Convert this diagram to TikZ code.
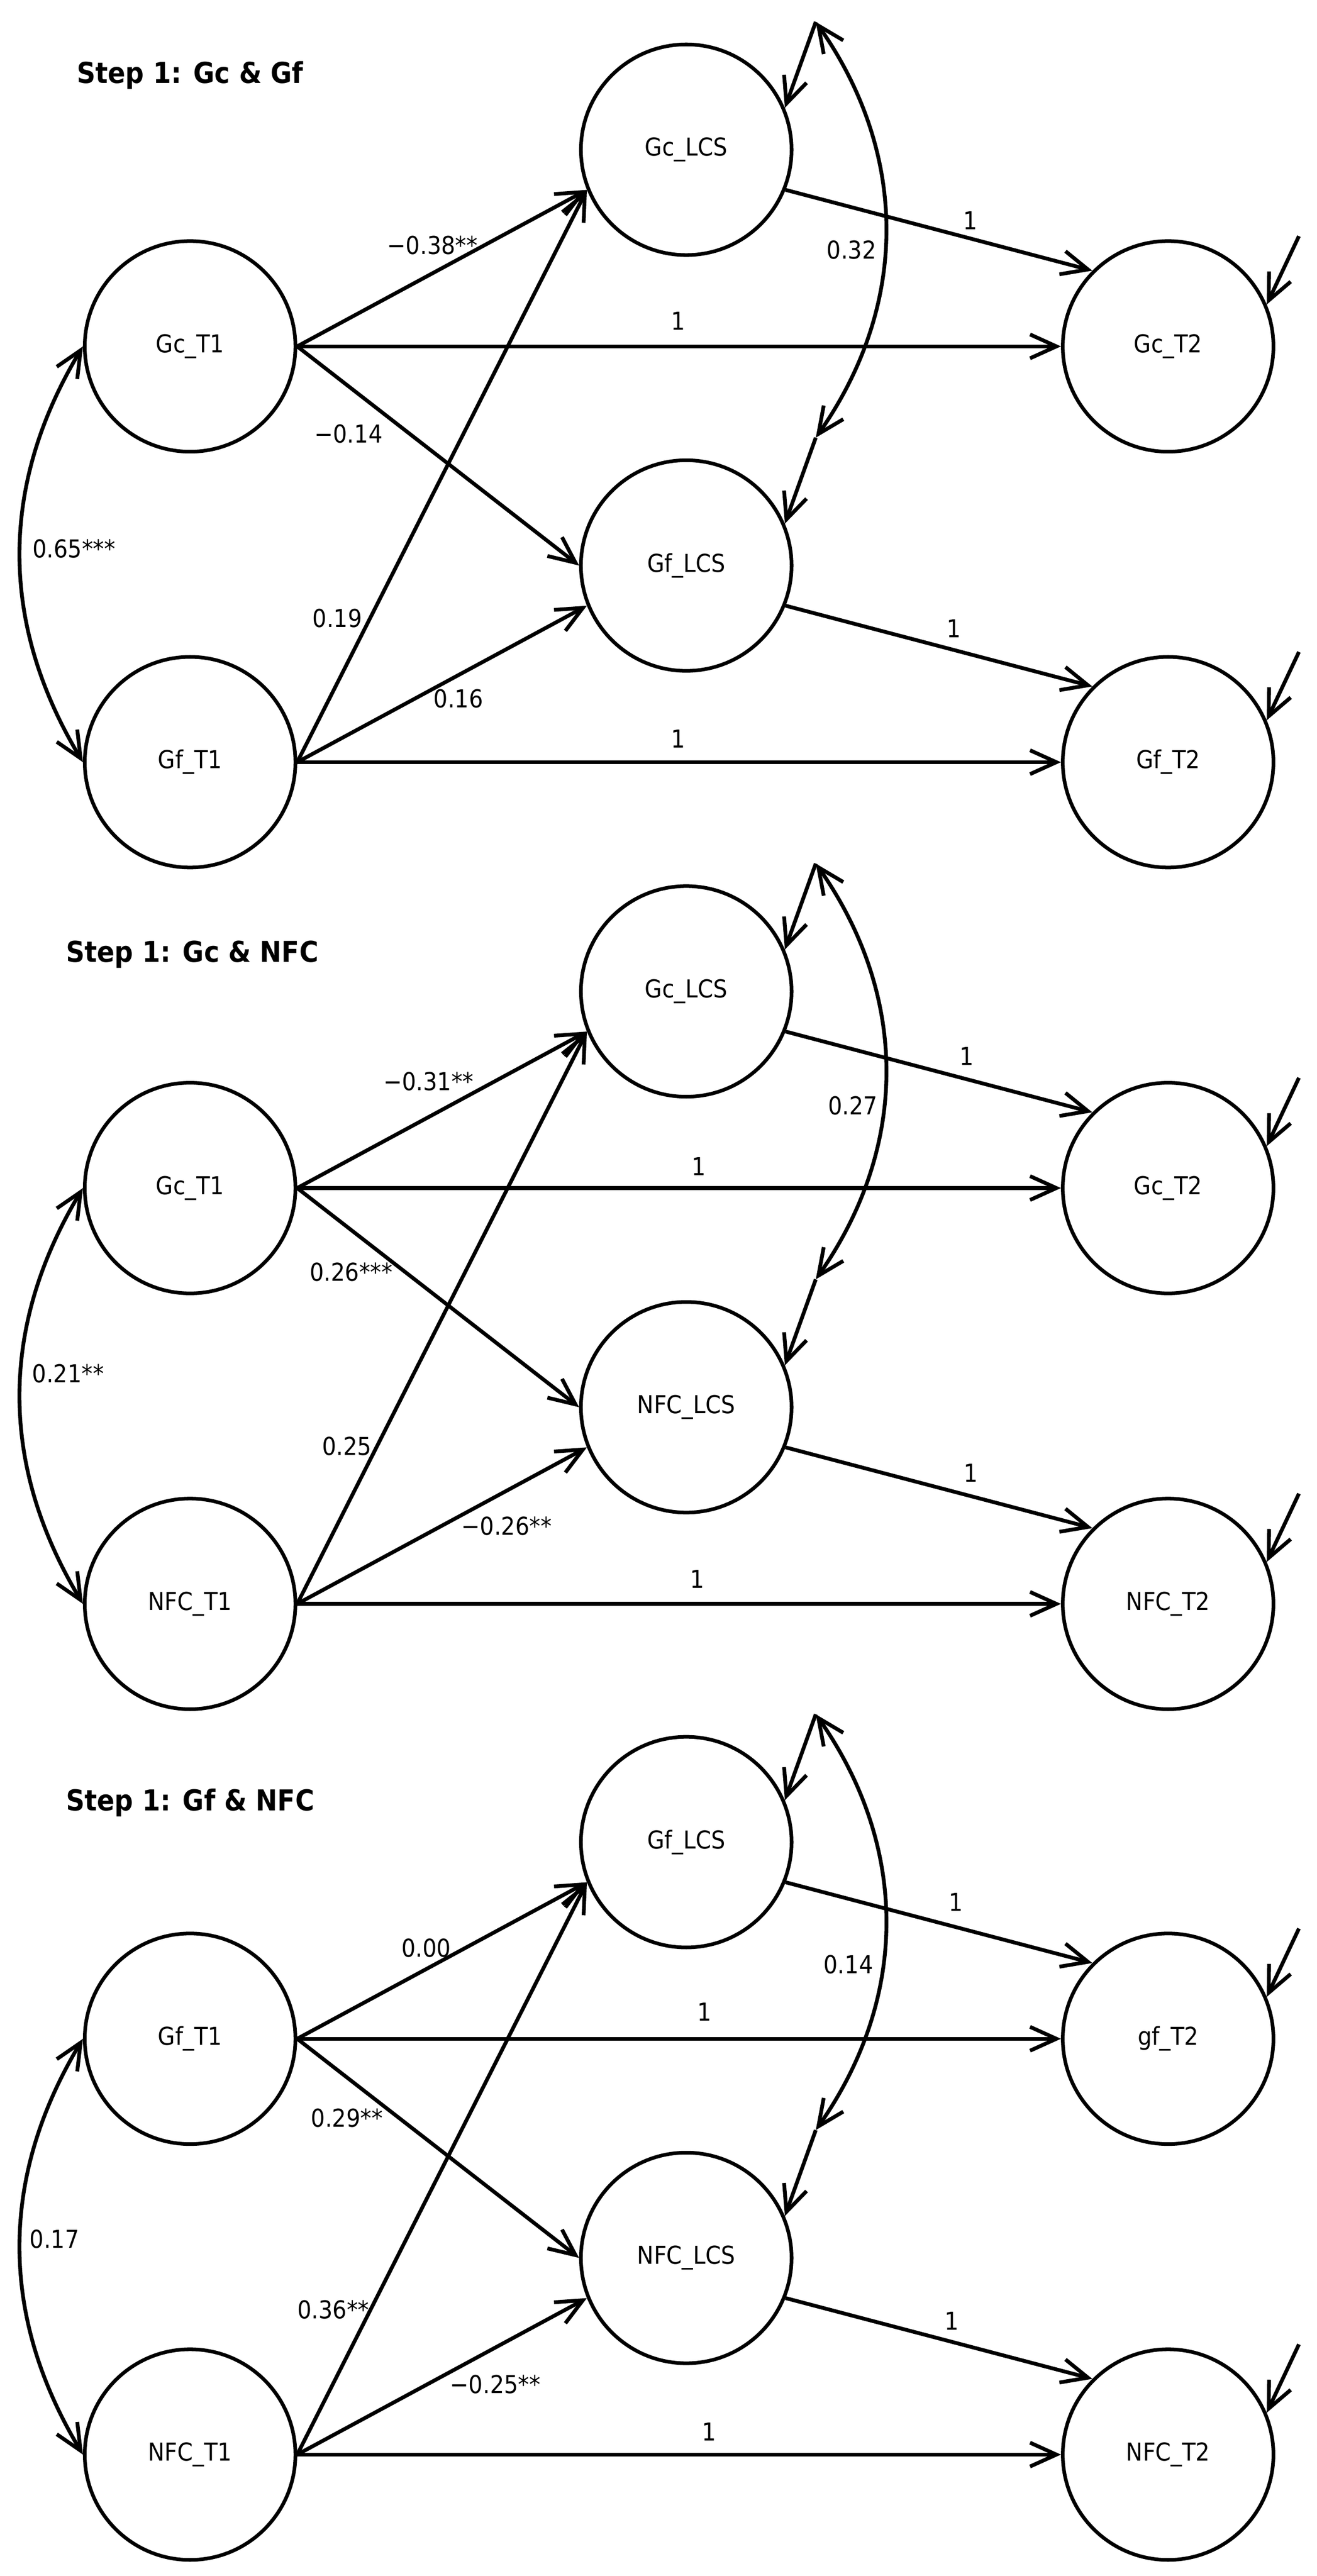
\documentclass[tikz,border=0pt]{standalone}
\usepackage{fontspec}
\setmainfont{DejaVu Sans}[FakeStretch=0.9]
\usetikzlibrary{calc}
\usetikzlibrary{positioning}
\usetikzlibrary{arrows.meta}

\tikzset{
  latent/.style={draw, circle, line width=2.2pt, minimum size=128pt, inner sep=0pt,
    font=\fontsize{15}{18}\selectfont},
  regpath/.style={line width=2.3pt, -{Straight Barb[length=16pt, width=14.5pt]}},
  covpath/.style={line width=2.3pt,
    {Straight Barb[length=16pt, width=14.5pt]}-{Straight Barb[length=16pt, width=14.5pt]}},
  coef/.style={inner sep=0pt, font=\fontsize{15}{18}\selectfont},
  steptitle/.style={anchor=west, inner sep=0pt, font=\fontsize{17.5}{21}\selectfont\bfseries},
}

\begin{document}
\begin{tikzpicture}[x=1pt, y=1pt]
  \useasboundingbox (0,0) rectangle (800,-1565.5);

  % Step 1: Gc & Gf
  \begin{scope}[yshift=-91pt]
    \node [steptitle] (gcgf-title) at (46.5,45.4) {Step 1: Gc \& Gf};

    \node [latent] (gcgf-gclcs) at (417,0) {Gc\_LCS};
    \node [latent, below=122.5pt of gcgf-gclcs] (gcgf-gflcs) {Gf\_LCS};
    \node [latent] (gcgf-gct1) at (115.5,-119.5) {Gc\_T1};
    \node [latent, below=122.5pt of gcgf-gct1] (gcgf-gft1) {Gf\_T1};
    \node [latent] (gcgf-gct2) at (709.8,-119.5) {Gc\_T2};
    \node [latent, below=122.5pt of gcgf-gct2] (gcgf-gft2) {Gf\_T2};

    \coordinate (gcgf-gcd) at ($(gcgf-gclcs)+(78.7,77.7)$);
    \coordinate (gcgf-gfd) at ($(gcgf-gflcs)+(78.7,77.7)$);
    \coordinate (gcgf-gce) at ($(gcgf-gct2)+(79.5,67)$);
    \coordinate (gcgf-gfe) at ($(gcgf-gft2)+(79.5,67)$);

    \draw [regpath] (gcgf-gct1.east) -- (gcgf-gclcs.202);
    \draw [regpath] (gcgf-gct1.east) -- (gcgf-gct2.west);
    \draw [regpath] (gcgf-gct1.east) -- (gcgf-gflcs.west);
    \draw [regpath] (gcgf-gft1.east) -- (gcgf-gclcs.202);
    \draw [regpath] (gcgf-gft1.east) -- (gcgf-gflcs.202);
    \draw [regpath] (gcgf-gft1.east) -- (gcgf-gft2.west);
    \draw [regpath] (gcgf-gclcs.338) -- (gcgf-gct2.135);
    \draw [regpath] (gcgf-gflcs.338) -- (gcgf-gft2.135);
    \draw [covpath] (gcgf-gct1.west) to [bend right=31] (gcgf-gft1.west);
    \draw [regpath] (gcgf-gcd) -- (gcgf-gclcs.23);
    \draw [regpath] (gcgf-gfd) -- (gcgf-gflcs.23);
    \draw [covpath] (gcgf-gcd) to [bend left=35] (gcgf-gfd);
    \draw [regpath] (gcgf-gce) -- (gcgf-gct2.23);
    \draw [regpath] (gcgf-gfe) -- (gcgf-gft2.23);

    \node [coef] (gcgf-c1) at (262.8,-58) {−0.38**};
    \node [coef] (gcgf-c2) at (412,-104) {1};
    \node [coef] (gcgf-c3) at (211.8,-172.7) {−0.14};
    \node [coef] (gcgf-c4) at (45,-242.6) {0.65***};
    \node [coef] (gcgf-c5) at (205,-284.6) {0.19};
    \node [coef] (gcgf-c6) at (278.6,-333.6) {0.16};
    \node [coef] (gcgf-c7) at (412,-358) {1};
    \node [coef] (gcgf-c8) at (589.5,-43) {1};
    \node [coef] (gcgf-c9) at (517.5,-61) {0.32};
    \node [coef] (gcgf-c10) at (579.7,-291) {1};
  \end{scope}

  % Step 1: Gc & NFC
  \begin{scope}[yshift=-602.5pt]
    \node [steptitle] (gcnfc-title) at (40,22.5) {Step 1: Gc \& NFC};

    \node [latent] (gcnfc-gclcs) at (417,0) {Gc\_LCS};
    \node [latent, below=122.5pt of gcnfc-gclcs] (gcnfc-nfclcs) {NFC\_LCS};
    \node [latent] (gcnfc-gct1) at (115.5,-119.5) {Gc\_T1};
    \node [latent, below=122.5pt of gcnfc-gct1] (gcnfc-nfct1) {NFC\_T1};
    \node [latent] (gcnfc-gct2) at (709.8,-119.5) {Gc\_T2};
    \node [latent, below=122.5pt of gcnfc-gct2] (gcnfc-nfct2) {NFC\_T2};

    \coordinate (gcnfc-gcd) at ($(gcnfc-gclcs)+(78.7,77.7)$);
    \coordinate (gcnfc-nfcd) at ($(gcnfc-nfclcs)+(78.7,77.7)$);
    \coordinate (gcnfc-gce) at ($(gcnfc-gct2)+(79.5,67)$);
    \coordinate (gcnfc-nfce) at ($(gcnfc-nfct2)+(79.5,67)$);

    \draw [regpath] (gcnfc-gct1.east) -- (gcnfc-gclcs.202);
    \draw [regpath] (gcnfc-gct1.east) -- (gcnfc-gct2.west);
    \draw [regpath] (gcnfc-gct1.east) -- (gcnfc-nfclcs.west);
    \draw [regpath] (gcnfc-nfct1.east) -- (gcnfc-gclcs.202);
    \draw [regpath] (gcnfc-nfct1.east) -- (gcnfc-nfclcs.202);
    \draw [regpath] (gcnfc-nfct1.east) -- (gcnfc-nfct2.west);
    \draw [regpath] (gcnfc-gclcs.338) -- (gcnfc-gct2.135);
    \draw [regpath] (gcnfc-nfclcs.338) -- (gcnfc-nfct2.135);
    \draw [covpath] (gcnfc-gct1.west) to [bend right=31] (gcnfc-nfct1.west);
    \draw [regpath] (gcnfc-gcd) -- (gcnfc-gclcs.23);
    \draw [regpath] (gcnfc-nfcd) -- (gcnfc-nfclcs.23);
    \draw [covpath] (gcnfc-gcd) to [bend left=35] (gcnfc-nfcd);
    \draw [regpath] (gcnfc-gce) -- (gcnfc-gct2.23);
    \draw [regpath] (gcnfc-nfce) -- (gcnfc-nfct2.23);

    \node [coef] (gcnfc-c1) at (260.4,-54.6) {−0.31**};
    \node [coef] (gcnfc-c2) at (424.6,-106.5) {1};
    \node [coef] (gcnfc-c3) at (213.4,-170.4) {0.26***};
    \node [coef] (gcnfc-c4) at (41.4,-232.2) {0.21**};
    \node [coef] (gcnfc-c5) at (210.8,-276.3) {0.25};
    \node [coef] (gcnfc-c6) at (307.8,-324.9) {−0.26**};
    \node [coef] (gcnfc-c7) at (423.6,-357) {1};
    \node [coef] (gcnfc-c8) at (587.5,-39.3) {1};
    \node [coef] (gcnfc-c9) at (518.3,-69.3) {0.27};
    \node [coef] (gcnfc-c10) at (590,-292.5) {1};
  \end{scope}

  % Step 1: Gf & NFC
  \begin{scope}[yshift=-1119.5pt]
    \node [steptitle] (gfnfc-title) at (40,23.9) {Step 1: Gf \& NFC};

    \node [latent] (gfnfc-gflcs) at (417,0) {Gf\_LCS};
    \node [latent, below=122.5pt of gfnfc-gflcs] (gfnfc-nfclcs) {NFC\_LCS};
    \node [latent] (gfnfc-gft1) at (115.5,-119.5) {Gf\_T1};
    \node [latent, below=122.5pt of gfnfc-gft1] (gfnfc-nfct1) {NFC\_T1};
    \node [latent] (gfnfc-gft2) at (709.8,-119.5) {gf\_T2};
    \node [latent, below=122.5pt of gfnfc-gft2] (gfnfc-nfct2) {NFC\_T2};

    \coordinate (gfnfc-gfd) at ($(gfnfc-gflcs)+(78.7,77.7)$);
    \coordinate (gfnfc-nfcd) at ($(gfnfc-nfclcs)+(78.7,77.7)$);
    \coordinate (gfnfc-gfe) at ($(gfnfc-gft2)+(79.5,67)$);
    \coordinate (gfnfc-nfce) at ($(gfnfc-nfct2)+(79.5,67)$);

    \draw [regpath] (gfnfc-gft1.east) -- (gfnfc-gflcs.202);
    \draw [regpath] (gfnfc-gft1.east) -- (gfnfc-gft2.west);
    \draw [regpath] (gfnfc-gft1.east) -- (gfnfc-nfclcs.west);
    \draw [regpath] (gfnfc-nfct1.east) -- (gfnfc-gflcs.202);
    \draw [regpath] (gfnfc-nfct1.east) -- (gfnfc-nfclcs.202);
    \draw [regpath] (gfnfc-nfct1.east) -- (gfnfc-nfct2.west);
    \draw [regpath] (gfnfc-gflcs.338) -- (gfnfc-gft2.135);
    \draw [regpath] (gfnfc-nfclcs.338) -- (gfnfc-nfct2.135);
    \draw [covpath] (gfnfc-gft1.west) to [bend right=31] (gfnfc-nfct1.west);
    \draw [regpath] (gfnfc-gfd) -- (gfnfc-gflcs.23);
    \draw [regpath] (gfnfc-nfcd) -- (gfnfc-nfclcs.23);
    \draw [covpath] (gfnfc-gfd) to [bend left=35] (gfnfc-nfcd);
    \draw [regpath] (gfnfc-gfe) -- (gfnfc-gft2.23);
    \draw [regpath] (gfnfc-nfce) -- (gfnfc-nfct2.23);

    \node [coef] (gfnfc-c1) at (259,-64.3) {0.00};
    \node [coef] (gfnfc-c2) at (428,-103.1) {1};
    \node [coef] (gfnfc-c3) at (210.8,-167.8) {0.29**};
    \node [coef] (gfnfc-c4) at (33.1,-241.2) {0.17};
    \node [coef] (gfnfc-c5) at (202.5,-284) {0.36**};
    \node [coef] (gfnfc-c6) at (301,-329.5) {−0.25**};
    \node [coef] (gfnfc-c7) at (430.9,-358.4) {1};
    \node [coef] (gfnfc-c8) at (580.8,-36.4) {1};
    \node [coef] (gfnfc-c9) at (515.5,-74.5) {0.14};
    \node [coef] (gfnfc-c10) at (578.5,-291) {1};
  \end{scope}
\end{tikzpicture}
\end{document}
